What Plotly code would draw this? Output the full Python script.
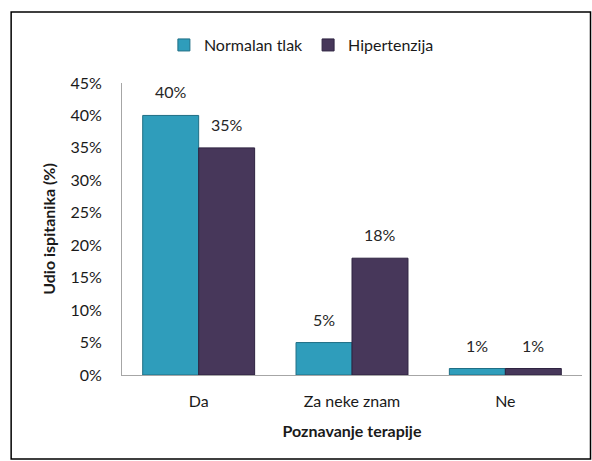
import plotly.graph_objects as go

# Données
kategorije = ["Da", "Za neke znam", "Ne"]
normalan_tlak = [0.40, 0.05, 0.01]
hipertenzija = [0.35, 0.18, 0.01]
oznake_normalan = ["40%", "5%", "1%"]
oznake_hipertenzija = ["35%", "18%", "1%"]

TEAL = "#2f9dbb"
LJUBICASTA = "#47375a"
FONT = "Lato"

fig = go.Figure()

fig.add_trace(go.Bar(
    x=kategorije, y=normalan_tlak,
    name="Normalan tlak",
    marker=dict(color=TEAL, line=dict(color="#1f6f85", width=1)),
))
fig.add_trace(go.Bar(
    x=kategorije, y=hipertenzija,
    name="Hipertenzija",
    marker=dict(color=LJUBICASTA, line=dict(color="#2e2340", width=1)),
))

# oznake vrijednosti iznad stupaca
anotacije = []
for serija, oznake, pomak in [(normalan_tlak, oznake_normalan, -28),
                              (hipertenzija, oznake_hipertenzija, 28)]:
    for k, v, t in zip(kategorije, serija, oznake):
        anotacije.append(dict(
            x=k, y=v, text=t, showarrow=False,
            xshift=pomak, yshift=12, yanchor="bottom",
            font=dict(size=16, color="#262626"),
        ))

fig.update_layout(
    width=592, height=461,
    paper_bgcolor="white", plot_bgcolor="white",
    font=dict(family=FONT, size=15, color="#1a1a1a"),
    margin=dict(l=122, r=10, t=83, b=86),
    barmode="group",
    bargap=0.27, bargroupgap=0,
    showlegend=True,
    legend=dict(
        orientation="h", x=0.39, xanchor="center", y=1.13, yanchor="middle",
        font=dict(size=16), itemwidth=30, traceorder="normal",
    ),
    annotations=anotacije,
    xaxis=dict(
        showline=True, linecolor="#a6a6a6", linewidth=1,
        ticks="", tickfont=dict(size=16), ticklabelstandoff=12,
        title=dict(text="<b>Poznavanje terapije</b>", font=dict(size=16), standoff=16),
    ),
    yaxis=dict(
        range=[0, 0.45], dtick=0.05, tickformat=".0%",
        showline=True, linecolor="#a6a6a6", linewidth=1,
        showgrid=False, zeroline=False, ticks="",
        tickfont=dict(size=16), ticklabelstandoff=16,
        title=dict(text="<b>Udio ispitanika (%)</b>", font=dict(size=16), standoff=10),
    ),
    shapes=[dict(
        type="rect", xref="paper", yref="paper",
        x0=-0.241, x1=1.0185, y0=-0.288, y1=1.243,
        line=dict(color="#000000", width=1.5), fillcolor="rgba(0,0,0,0)",
    )],
)

fig.write_html("out.html", config={"displayModeBar": False},
               post_script="document.body.style.margin='0';")
